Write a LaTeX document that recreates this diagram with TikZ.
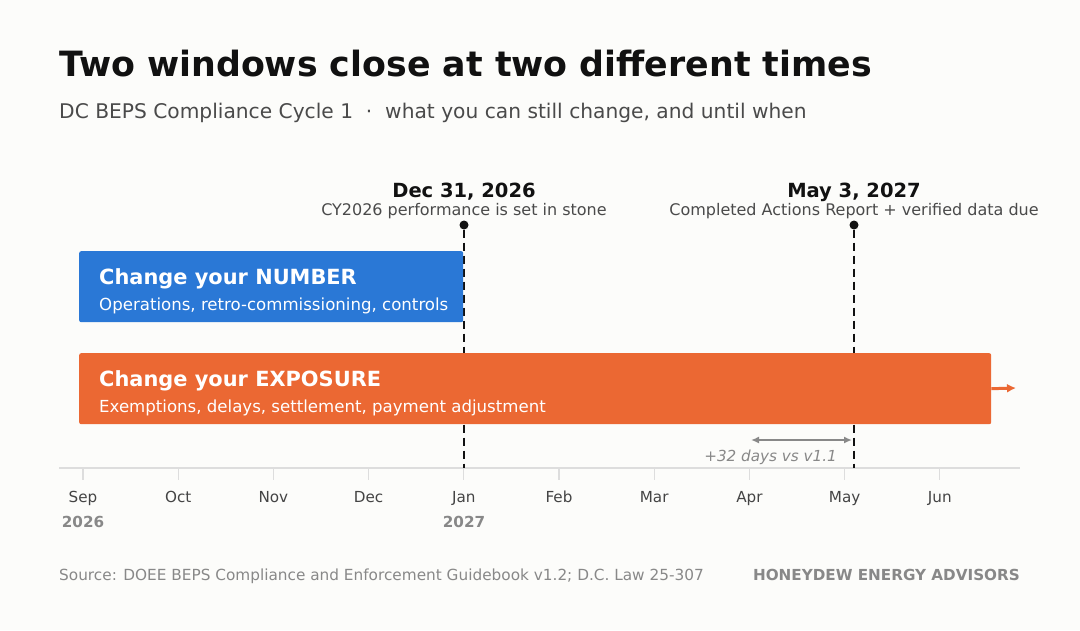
\documentclass[tikz,border=0pt]{standalone}
\usepackage{fontspec}
\setmainfont{DejaVu Sans}
\usetikzlibrary{arrows.meta}
\definecolor{bg}{HTML}{FCFCFA}
\definecolor{ink}{HTML}{111111}
\definecolor{subgray}{HTML}{4A4A4A}
\definecolor{axgray}{HTML}{444444}
\definecolor{lightgray}{HTML}{888888}
\definecolor{rulegray}{HTML}{DDDDDD}
\definecolor{numblue}{HTML}{2A78D6}
\definecolor{expor}{HTML}{EB6833}
\tikzset{every node/.style={inner sep=0pt}}
\tikzset{bar/.style={rectangle,anchor=north west,rounded corners=2pt}}
\tikzset{head/.style={anchor=base west,text=white,font=\fontsize{20.9}{25}\selectfont\bfseries}}
\tikzset{sub/.style={anchor=base west,text=white,font=\fontsize{16.6}{20}\selectfont}}
\tikzset{month/.style={anchor=base,text=axgray,font=\fontsize{15.2}{18}\selectfont}}
\tikzset{yr/.style={anchor=base,text=lightgray,font=\fontsize{15.2}{18}\selectfont\bfseries}}
\tikzset{dl/.style={ink,line width=2.4pt,dash pattern=on 8pt off 5pt}}
\tikzset{dot/.style={circle,fill=ink,minimum size=9pt}}

\begin{document}
\begin{tikzpicture}[x=1pt,y=-1pt]
  \useasboundingbox[fill=bg] (0,0) rectangle (1080,630);
  % title
  \node[anchor=base west,text=ink,font=\fontsize{34.8}{40}\selectfont\bfseries] (title) at (59,76) {Two windows close at two different times};
  \node[anchor=base west,text=subgray,font=\fontsize{20.2}{24}\selectfont] (subtitle) at (59,118) {DC BEPS Compliance Cycle 1 \ \textperiodcentered\ \ what you can still change, and until when};
  % axis
  \draw[rulegray,line width=1.3pt] (59,468) -- (1020,468);
  \foreach \m [count=\i from 0] in {Sep,Oct,Nov,Dec,Jan,Feb,Mar,Apr,May,Jun} {
    \coordinate (t\i) at ({83+95.2*\i},468);
    \draw[rulegray,line width=1.3pt] (t\i) -- ++(0,12);
    \node[month] (m\i) at ({83+95.2*\i},502) {\m};
  }
  \node[yr] (y26) at (83,527) {2026};
  \node[yr] (y27) at (464,527) {2027};
  % deadlines
  \node[dot] (d1) at (464,225) {};
  \node[dot] (d2) at (854,225) {};
  \coordinate (b1) at (464,468);
  \coordinate (b2) at (854,468);
  \draw[dl] (d1) -- (b1);
  \draw[dl] (d2) -- (b2);
  \node[anchor=base,text=ink,font=\fontsize{19.5}{23}\selectfont\bfseries] (d1t) at (464,197) {Dec 31, 2026};
  \node[anchor=base,text=subgray,font=\fontsize{16}{19}\selectfont] (d1s) at (464,215) {CY2026 performance is set in stone};
  \node[anchor=base,text=ink,font=\fontsize{19.5}{23}\selectfont\bfseries] (d2t) at (854,197) {May 3, 2027};
  \node[anchor=base,text=subgray,font=\fontsize{16}{19}\selectfont] (d2s) at (854,215) {Completed Actions Report + verified data due};
  % bars
  \node[bar,fill=numblue,minimum width=384pt,minimum height=71pt] (num) at (79,251) {};
  \node[head] (numh) at (99,284) {Change your NUMBER};
  \node[sub] (nums) at (99,310) {Operations, retro-commissioning, controls};
  \node[bar,fill=expor,minimum width=912pt,minimum height=71pt] (exp) at (79,353) {};
  \node[head] (exph) at (99,386) {Change your EXPOSURE};
  \node[sub] (exps) at (99,412) {Exemptions, delays, settlement, payment adjustment};
  \coordinate (more) at (1016,388);
  \draw[expor,line width=3pt,-{Latex[length=9pt,width=9pt]}] (exp.east) -- (more);
  % shift
  \coordinate (gapL) at (751,440);
  \coordinate (gapR) at (852,440);
  \draw[lightgray,line width=2pt,{Latex[length=8pt,width=7pt]}-{Latex[length=8pt,width=7pt]}] (gapL) -- (gapR);
  \node[anchor=base east,text=lightgray,font=\fontsize{15.2}{18}\selectfont\itshape] (gapt) at (837,461) {+32 days vs v1.1};
  % footer
  \node[anchor=base west,text=lightgray,font=\fontsize{15.3}{18}\selectfont] (src) at (59,580) {Source: DOEE BEPS Compliance and Enforcement Guidebook v1.2; D.C. Law 25-307};
  \node[anchor=base east,text=lightgray,font=\fontsize{15.2}{18}\selectfont\bfseries] (brand) at (1020,580) {HONEYDEW ENERGY ADVISORS};
\end{tikzpicture}
\end{document}
